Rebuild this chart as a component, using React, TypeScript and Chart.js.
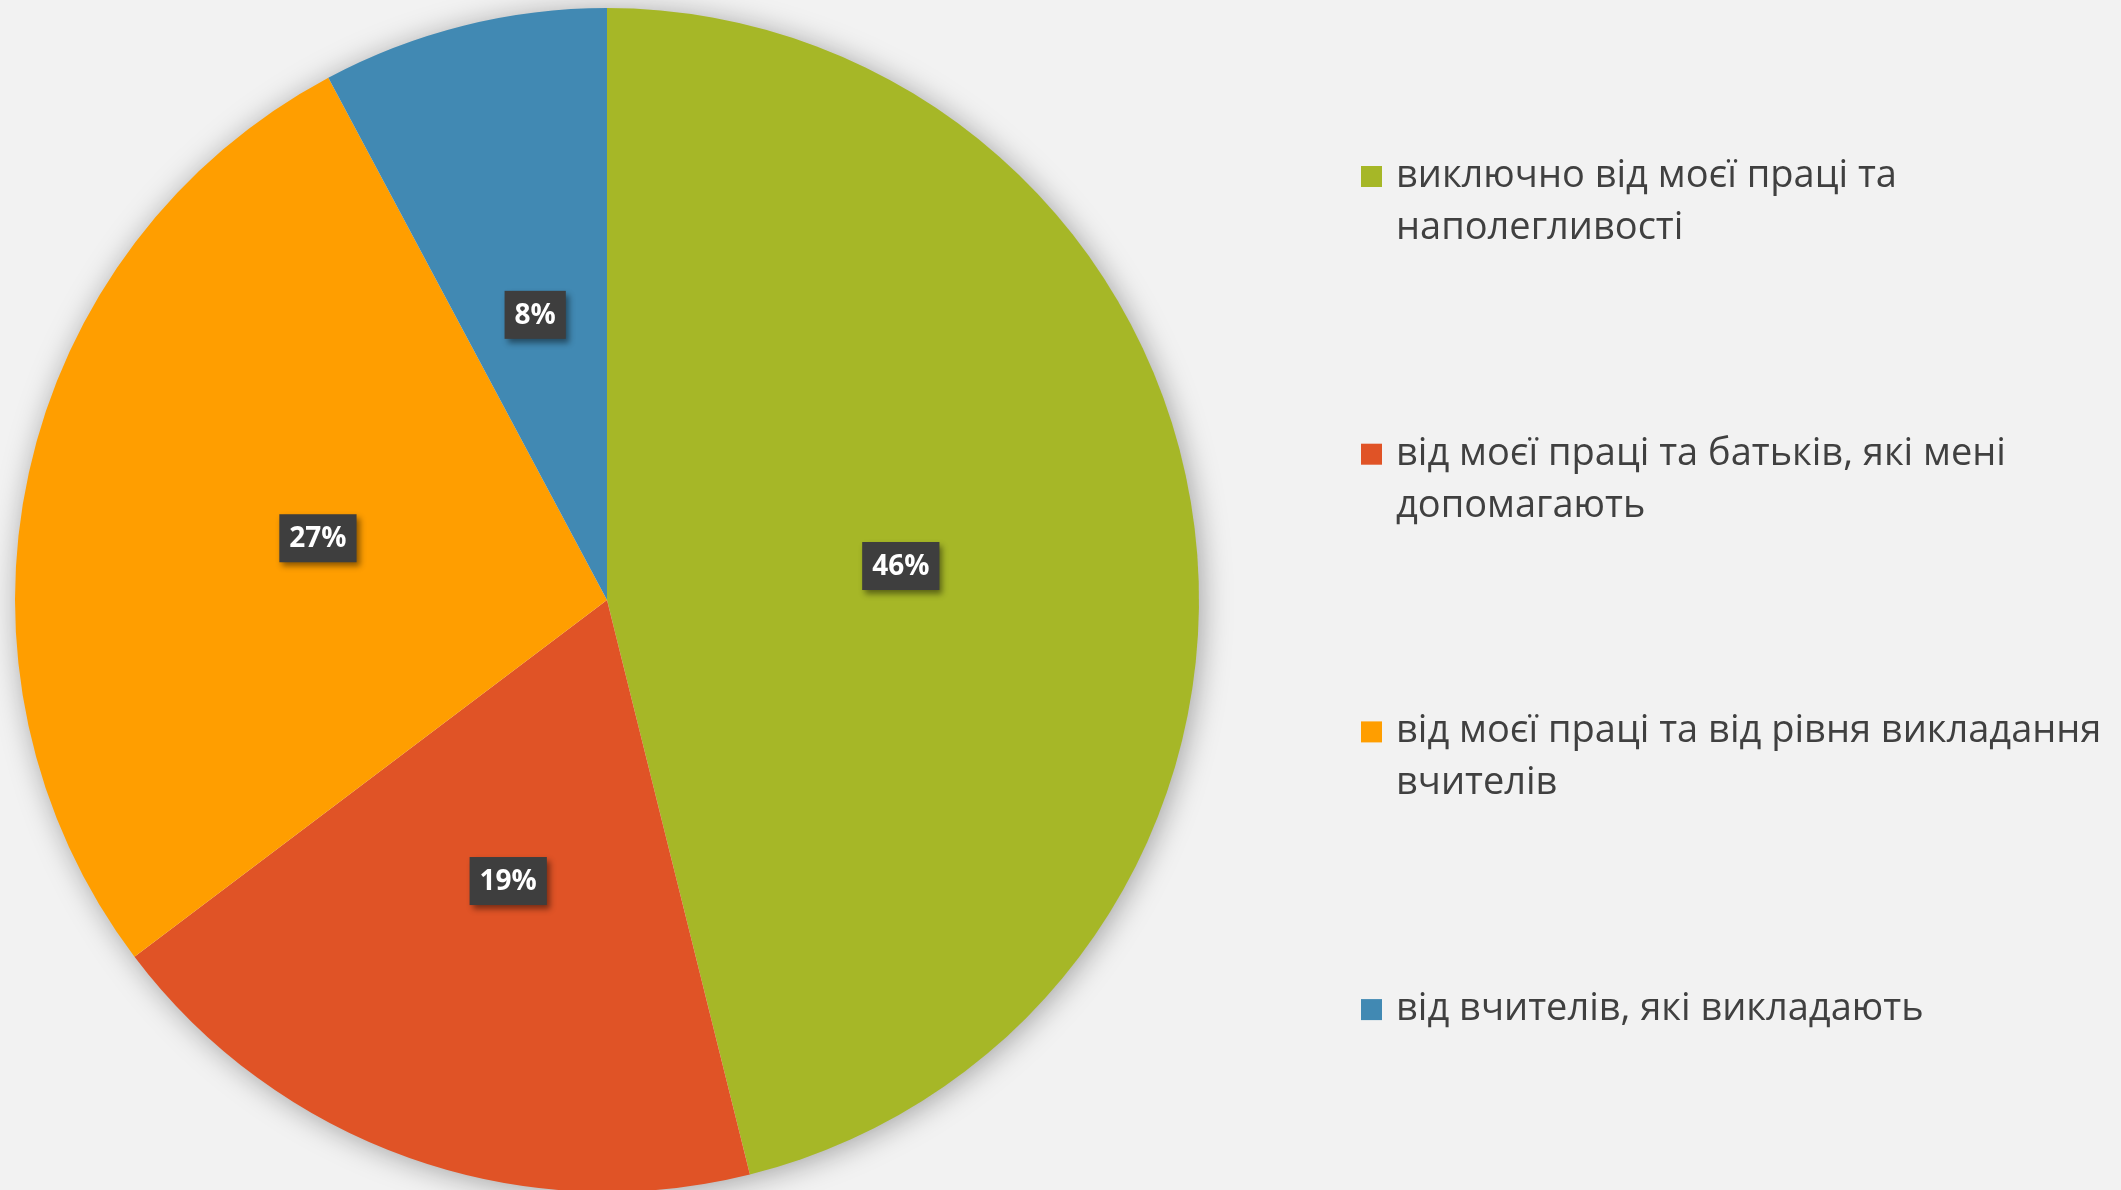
import React, { useEffect, useRef } from "react";
import { Chart, registerables } from "chart.js";

Chart.register(...registerables);

const categories: string[][] = [
  ["виключно від моєї праці та", "наполегливості"],
  ["від моєї праці та батьків, які мені", "допомагають"],
  ["від моєї праці та від рівня викладання", "вчителів"],
  ["від вчителів, які викладають"],
];
const values: number[] = [46.12, 18.59, 27.49, 7.8];
const sliceColors: string[] = ["#A6B727", "#E05326", "#FF9E00", "#4189B3"];

const BG = "#F2F2F2";
const LEGEND_FONT = '38px "Open Sans", sans-serif';

const shadowPlugin = {
  id: "pieShadow",
  beforeDatasetsDraw(chart: any) {
    const meta = chart.getDatasetMeta(0);
    const arc = meta.data[0];
    if (!arc) return;
    const ctx = chart.ctx;
    ctx.save();
    ctx.shadowColor = "rgba(0,0,0,0.35)";
    ctx.shadowBlur = 30;
    ctx.shadowOffsetX = 3;
    ctx.shadowOffsetY = 3;
    ctx.fillStyle = BG;
    ctx.beginPath();
    ctx.arc(arc.x, arc.y, arc.outerRadius - 1, 0, Math.PI * 2);
    ctx.fill();
    ctx.restore();
  },
};

const labelPlugin = {
  id: "pieLabels",
  afterDatasetsDraw(chart: any) {
    const meta = chart.getDatasetMeta(0);
    const ctx = chart.ctx;
    const data = chart.data.datasets[0].data as number[];
    meta.data.forEach((arc: any, i: number) => {
      const p = arc.tooltipPosition(false);
      const text = `${Math.round(data[i])}%`;
      ctx.save();
      ctx.font = 'bold 28px "Open Sans", sans-serif';
      const w = ctx.measureText(text).width + 20;
      const h = 48;
      const cy = p.y + 2;
      ctx.shadowColor = "rgba(0,0,0,0.45)";
      ctx.shadowBlur = 6;
      ctx.shadowOffsetX = 3;
      ctx.shadowOffsetY = 4;
      ctx.fillStyle = "#3E3E3E";
      ctx.fillRect(p.x - w / 2, cy - h / 2, w, h);
      ctx.shadowColor = "transparent";
      ctx.fillStyle = "#FFFFFF";
      ctx.textAlign = "center";
      ctx.textBaseline = "middle";
      ctx.fillText(text, p.x, cy + 1);
      ctx.restore();
    });
  },
};

const legendPlugin = {
  id: "sideLegend",
  afterDraw(chart: any) {
    const ctx = chart.ctx;
    const labels = chart.data.labels as string[][];
    const colors = chart.data.datasets[0].backgroundColor as string[];
    const startY = 176;
    const step = 277.7;
    const lineH = 52;
    ctx.save();
    ctx.font = LEGEND_FONT;
    ctx.textBaseline = "middle";
    ctx.textAlign = "left";
    labels.forEach((lines, i) => {
      const y = startY + i * step;
      ctx.fillStyle = colors[i];
      ctx.fillRect(1361, y - 10, 21, 21);
      ctx.fillStyle = "#404040";
      lines.forEach((ln, k) => {
        ctx.fillText(ln, 1396, y + k * lineH);
      });
    });
    ctx.restore();
  },
};

export default function App() {
  const ref = useRef<HTMLCanvasElement | null>(null);
  useEffect(() => {
    if (!ref.current) return;
    const chart = new Chart(ref.current, {
      type: "pie",
      data: {
        labels: categories as any,
        datasets: [
          {
            data: values,
            backgroundColor: sliceColors,
            borderWidth: 0,
          },
        ],
      },
      options: {
        animation: false,
        responsive: false,
        devicePixelRatio: 1,
        radius: 592,
        layout: { padding: { left: 15, right: 922, top: 10, bottom: 0 } },
        plugins: {
          legend: { display: false },
          tooltip: { enabled: false },
        },
      } as any,
      plugins: [shadowPlugin, labelPlugin, legendPlugin],
    });
    return () => chart.destroy();
  }, []);
  return (
    <div
      style={{
        position: "absolute",
        left: 0,
        top: 0,
        width: 2121,
        height: 1190,
        background: BG,
        overflow: "hidden",
      }}
    >
      <canvas ref={ref} width={2121} height={1190} style={{ display: "block" }} />
    </div>
  );
}
